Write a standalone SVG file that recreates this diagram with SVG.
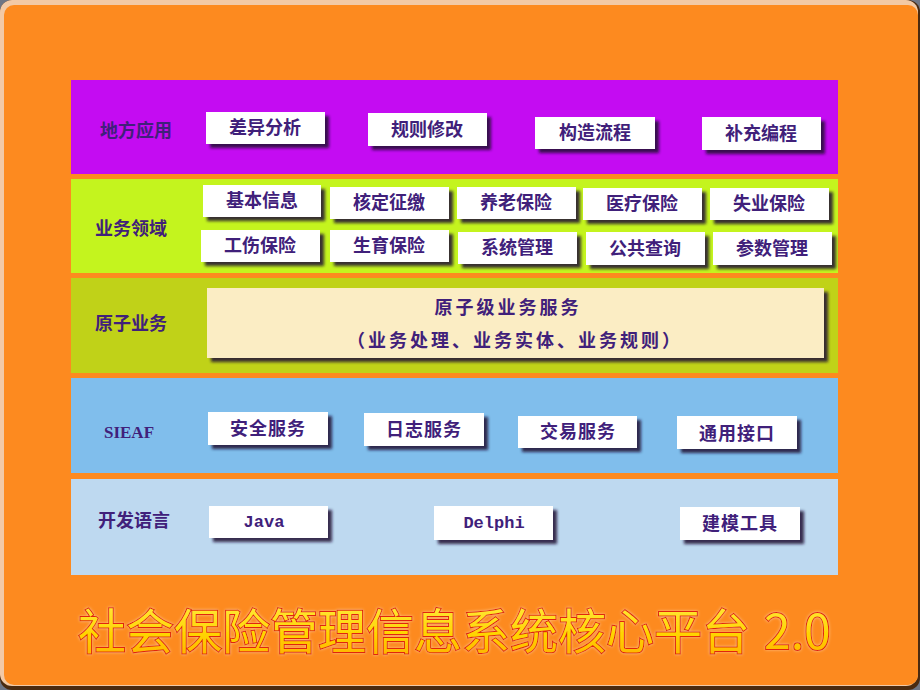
<svg xmlns="http://www.w3.org/2000/svg" width="920" height="690" viewBox="0 0 920 690">
<defs>
<filter id="sh" x="-10%" y="-20%" width="130%" height="160%">
<feDropShadow dx="4" dy="4" stdDeviation="1.6" flood-color="#1a1030" flood-opacity="0.85"/>
</filter>
<filter id="glow" x="-5%" y="-20%" width="110%" height="140%">
<feGaussianBlur in="SourceAlpha" stdDeviation="1.5" result="b"/>
<feFlood flood-color="#FFD0A0" flood-opacity="0.8"/>
<feComposite in2="b" operator="in" result="g"/>
<feMerge><feMergeNode in="g"/><feMergeNode in="SourceGraphic"/></feMerge>
</filter>
<linearGradient id="tg" x1="0" y1="0" x2="0" y2="1">
<stop offset="0" stop-color="#FFF050"/>
<stop offset="0.6" stop-color="#FFD400"/>
<stop offset="1" stop-color="#FFA800"/>
</linearGradient>
</defs>
<style>
.box{fill:#ffffff;filter:url(#sh)}
.t{font-family:"Noto Sans CJK SC","Noto Sans CJK TC",sans-serif;font-size:18px;font-weight:bold;fill:#40207A;text-anchor:middle}
.lbl{font-family:"Noto Sans CJK SC","Noto Sans CJK TC",sans-serif;font-size:18px;font-weight:bold;fill:#40207A}
.mono{font-family:"Liberation Mono",monospace;font-size:17px;font-weight:bold;fill:#40207A;text-anchor:middle}
</style>
<rect x="0" y="0" width="920" height="690" fill="#6E7585"/>
<rect x="0" y="0" width="920" height="690" rx="12" fill="#4A2A10"/>
<rect x="0" y="0" width="918" height="686" rx="12" fill="#F2C9A6"/>
<rect x="4" y="5" width="914" height="680" rx="10" fill="#FD8A1F"/>

<g id="layer-local">
<rect x="71" y="80" width="767" height="94" fill="#C40CF2"/>
<text class="lbl" x="100" y="137">地方应用</text>
</g>
<g id="layer-domain">
<rect x="71" y="179" width="767" height="94" fill="#C4F41E"/>
<text class="lbl" x="95" y="235">业务领域</text>
</g>
<g id="layer-atomic">
<rect x="71" y="278" width="767" height="95" fill="#C0D218"/>
<text class="lbl" x="95" y="330">原子业务</text>
</g>
<g id="layer-sieaf">
<rect x="71" y="378" width="767" height="95" fill="#80BEEC"/>
<text class="mono" x="129" y="438" style="font-family:'Liberation Serif',serif;font-size:17px">SIEAF</text>
</g>
<g id="layer-lang">
<rect x="71" y="479" width="767" height="96" fill="#BED9F0"/>
<text class="lbl" x="98" y="527">开发语言</text>
</g>

<g id="n-chayi"><rect class="box" x="206" y="112" width="119" height="32"/><text class="t" x="265" y="134">差异分析</text></g>
<g id="n-guize"><rect class="box" x="368" y="113" width="119" height="33"/><text class="t" x="427" y="136">规则修改</text></g>
<g id="n-gouzao"><rect class="box" x="535" y="117" width="120" height="32"/><text class="t" x="595" y="139">构造流程</text></g>
<g id="n-buchong"><rect class="box" x="702" y="117" width="119" height="33"/><text class="t" x="761" y="140">补充编程</text></g>

<g id="n-jiben"><rect class="box" x="203" y="185" width="118" height="32"/><text class="t" x="262" y="207">基本信息</text></g>
<g id="n-heding"><rect class="box" x="330" y="187" width="119" height="32"/><text class="t" x="389" y="209">核定征缴</text></g>
<g id="n-yanglao"><rect class="box" x="457" y="187" width="119" height="32"/><text class="t" x="516" y="209">养老保险</text></g>
<g id="n-yiliao"><rect class="box" x="583" y="188" width="119" height="32"/><text class="t" x="642" y="210">医疗保险</text></g>
<g id="n-shiye"><rect class="box" x="710" y="188" width="119" height="32"/><text class="t" x="769" y="210">失业保险</text></g>
<g id="n-gongshang"><rect class="box" x="201" y="230" width="119" height="32"/><text class="t" x="260" y="252">工伤保险</text></g>
<g id="n-shengyu"><rect class="box" x="330" y="230" width="119" height="32"/><text class="t" x="389" y="252">生育保险</text></g>
<g id="n-xitong"><rect class="box" x="458" y="232" width="119" height="32"/><text class="t" x="517" y="254">系统管理</text></g>
<g id="n-gonggong"><rect class="box" x="586" y="232" width="119" height="33"/><text class="t" x="645" y="255">公共查询</text></g>
<g id="n-canshu"><rect class="box" x="713" y="232" width="119" height="33"/><text class="t" x="772" y="255">参数管理</text></g>

<g id="n-atomic">
<rect x="207" y="288" width="617" height="70" fill="#FBEDC4" style="filter:url(#sh)"/>
<text class="t" x="508" y="314" style="letter-spacing:3px">原子级业务服务</text>
<text class="t" x="515" y="347" style="letter-spacing:3px">（业务处理、业务实体、业务规则）</text>
</g>

<g id="n-anquan"><rect class="box" x="208" y="412" width="120" height="33"/><text class="t" x="268" y="435" style="letter-spacing:1px">安全服务</text></g>
<g id="n-rizhi"><rect class="box" x="364" y="413" width="120" height="33"/><text class="t" x="424" y="436" style="letter-spacing:1px">日志服务</text></g>
<g id="n-jiaoyi"><rect class="box" x="518" y="416" width="119" height="32"/><text class="t" x="578" y="438" style="letter-spacing:1px">交易服务</text></g>
<g id="n-tongyong"><rect class="box" x="677" y="416" width="120" height="33"/><text class="t" x="737" y="440" style="letter-spacing:1px">通用接口</text></g>

<g id="n-java"><rect class="box" x="209" y="506" width="119" height="32"/><text class="mono" x="264" y="527">Java</text></g>
<g id="n-delphi"><rect class="box" x="434" y="506" width="119" height="34"/><text class="mono" x="494" y="528">Delphi</text></g>
<g id="n-jianmo"><rect class="box" x="680" y="507" width="120" height="33"/><text class="t" x="740" y="530" style="letter-spacing:1px">建模工具</text></g>

<g id="title" filter="url(#glow)">
<text x="78" y="649" style="font-family:'Noto Sans CJK SC',sans-serif;font-size:48px;font-weight:normal;fill:url(#tg);stroke:#E0280A;stroke-width:2px;paint-order:stroke">社会保险管理信息系统核心平台<tspan x="764">2.0</tspan></text>
</g>
</svg>
